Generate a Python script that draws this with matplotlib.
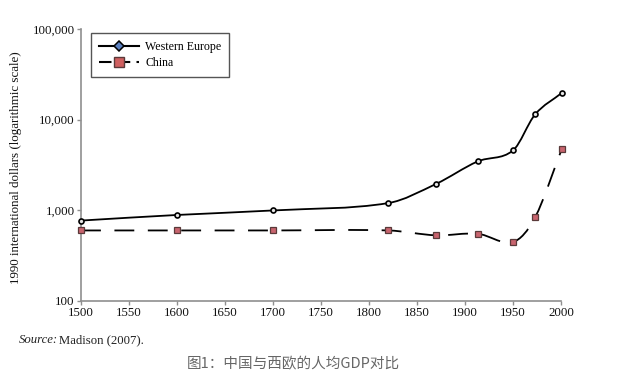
import matplotlib
matplotlib.use('Agg')
import matplotlib.pyplot as plt
import numpy as np
from matplotlib.path import Path
from matplotlib.patches import PathPatch
from matplotlib.lines import Line2D
from matplotlib.ticker import FixedLocator, FuncFormatter, NullLocator

plt.rcParams['font.family'] = ['Liberation Serif', 'DejaVu Serif']

# Data
years = [1500, 1600, 1700, 1820, 1870, 1913, 1950, 1973, 2001]
western_europe = [771, 889, 997, 1202, 1960, 3457, 4578, 11416, 19800]
china = [600, 600, 600, 600, 530, 552, 448, 838, 4803]

x_ticks = [1500, 1550, 1600, 1650, 1700, 1750, 1800, 1850, 1900, 1950, 2000]
y_ticks = [100, 1000, 10000, 100000]


def smooth_path(xs, ys):
    # cubic hermite in (year, log10 value) space, handed to matplotlib as bezier segments
    xs = np.asarray(xs, float)
    ly = np.log10(ys)
    n = len(xs)
    m = np.zeros(n)
    m[0] = (ly[1] - ly[0]) / (xs[1] - xs[0])
    m[-1] = (ly[-1] - ly[-2]) / (xs[-1] - xs[-2])
    for i in range(1, n - 1):
        m[i] = (ly[i + 1] - ly[i - 1]) / (xs[i + 1] - xs[i - 1])
    verts = [(xs[0], 10 ** ly[0])]
    codes = [Path.MOVETO]
    for i in range(n - 1):
        h = xs[i + 1] - xs[i]
        verts.append((xs[i] + h / 3, 10 ** (ly[i] + m[i] * h / 3)))
        verts.append((xs[i + 1] - h / 3, 10 ** (ly[i + 1] - m[i + 1] * h / 3)))
        verts.append((xs[i + 1], 10 ** ly[i + 1]))
        codes += [Path.CURVE4] * 3
    return Path(verts, codes)


fig = plt.figure(figsize=(6.4, 3.83), dpi=100)
ax = fig.add_axes([0.1266, 0.2141, 0.75, 0.7102])
ax.set_yscale('log')
ax.set_xlim(1500, 2000)
ax.set_ylim(100, 100000)

we_patch = PathPatch(smooth_path(years, western_europe), fill=False,
                     edgecolor='black', lw=1.3, clip_on=False, capstyle='round')
ax.add_patch(we_patch)
cn_patch = PathPatch(smooth_path(years, china), fill=False,
                     edgecolor='black', lw=1.3, linestyle=(0, (11, 7.5)), clip_on=False)
ax.add_patch(cn_patch)

ax.plot(years, western_europe, linestyle='none', marker='o', markersize=3.6,
        markerfacecolor='#e6e6e6', markeredgecolor='black', markeredgewidth=1.2,
        clip_on=False, zorder=3)
ax.plot(years, china, linestyle='none', marker='s', markersize=5,
        markerfacecolor='#c8646e', markeredgecolor='#5a3a3a', markeredgewidth=0.9,
        clip_on=False, zorder=3)

for side in ['top', 'right']:
    ax.spines[side].set_visible(False)
for side in ['left', 'bottom']:
    ax.spines[side].set_color('#8f8f8f')
    ax.spines[side].set_linewidth(1.2)

ax.xaxis.set_major_locator(FixedLocator(x_ticks))
ax.yaxis.set_major_locator(FixedLocator(y_ticks))
ax.yaxis.set_minor_locator(NullLocator())
ax.yaxis.set_major_formatter(FuncFormatter(lambda v, p: f'{int(v):,}'))
ax.tick_params(axis='both', which='major', length=3, width=1, color='#8f8f8f',
               labelsize=9.3, labelcolor='#111111', pad=1.5)

ax.set_ylabel('1990 international dollars (logarithmic scale)', fontsize=9.4, color='#111111')
ax.yaxis.set_label_coords(-0.123, 0.49)

handles = [
    Line2D([], [], color='black', lw=1.5, marker='D', markersize=5,
           markerfacecolor='#5b80c0', markeredgecolor='black', markeredgewidth=1.1),
    Line2D([], [], color='black', lw=1.5, linestyle=(0, (6, 3)), marker='s', markersize=7,
           markerfacecolor='#d06060', markeredgecolor='#5a3a3a', markeredgewidth=1.0),
]
leg = ax.legend(handles, ['Western Europe', 'China'], loc='upper left',
                bbox_to_anchor=(0.021, 0.985), borderaxespad=0, fontsize=8.6,
                handlelength=3.4, handletextpad=0.5, labelspacing=0.35,
                borderpad=0.65, fancybox=False, framealpha=1, edgecolor='#555555')
leg.get_frame().set_linewidth(1.0)

fig.text(19 / 640, 1 - 343 / 383, 'Source:', fontsize=9.2, style='italic',
         color='#222222', va='baseline')
fig.text(59 / 640, 1 - 343 / 383, 'Madison (2007).', fontsize=9.2,
         color='#222222', va='baseline')
fig.text(0.4586, 1 - 364 / 383, '图1：中国与西欧的人均GDP对比', fontsize=10.5,
         color='#666666', ha='center', va='center',
         family=['Noto Sans CJK SC', 'DejaVu Sans'])

fig.savefig('out.png', dpi=100)
